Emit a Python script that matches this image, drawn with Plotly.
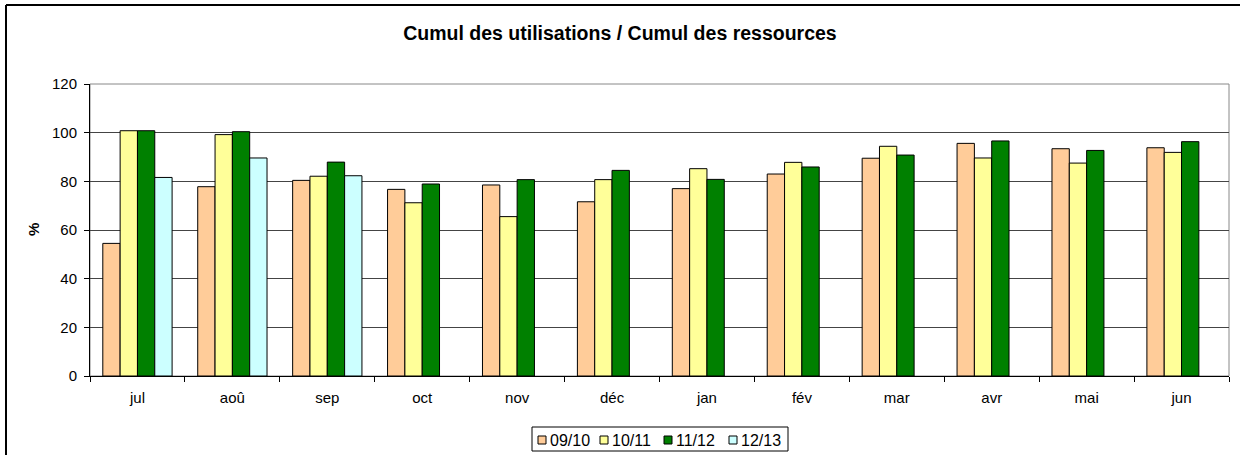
import plotly.graph_objects as go

months = ["jul", "aoû", "sep", "oct", "nov", "déc", "jan", "fév", "mar", "avr", "mai", "jun"]
s0910 = [54.5, 77.8, 80.4, 76.7, 78.5, 71.6, 77.0, 83.0, 89.5, 95.6, 93.4, 93.8]
s1011 = [100.8, 99.2, 82.1, 71.2, 65.5, 80.7, 85.2, 87.8, 94.4, 89.6, 87.5, 91.9]
s1112 = [100.8, 100.4, 87.9, 78.9, 80.7, 84.5, 80.8, 85.9, 90.8, 96.6, 92.7, 96.3]
s1213 = [81.6, 89.6, 82.3, None, None, None, None, None, None, None, None, None]
series_names = ["09/10", "10/11", "11/12", "12/13"]
colors = ["#FFCC99", "#FFFF99", "#008000", "#CCFFFF"]
y_ticks = [0, 20, 40, 60, 80, 100, 120]

FONT = "Liberation Sans, Arial, sans-serif"
W, H = 1240, 455
L, R, T, B = 90, 11, 84, 79
PW, PH = W - L - R, H - T - B


def px(x):
    return (x - L) / PW


def py(y):
    return (H - B - y) / PH


fig = go.Figure()
for name, vals, col in zip(series_names, [s0910, s1011, s1112, s1213], colors):
    fig.add_trace(go.Bar(
        x=months, y=vals, name=name, showlegend=False,
        marker=dict(color=col, line=dict(color="#000000", width=1)),
    ))

fig.update_layout(
    width=W, height=H,
    margin=dict(l=L, r=R, t=T, b=B),
    paper_bgcolor="white", plot_bgcolor="white",
    barmode="group", bargap=0.27, bargroupgap=0,
    font=dict(family=FONT, size=15, color="#000000"),
    title=dict(text="<b>Cumul des utilisations / Cumul des ressources</b>",
               x=0.5, xref="container", xanchor="center", y=1 - 33 / H, yref="container",
               yanchor="middle", font=dict(family=FONT, size=19.5, color="#000000")),
    showlegend=False,
)

fig.update_xaxes(
    automargin=False,
    showline=True, linecolor="#000000", linewidth=1,
    ticks="outside", ticklen=5, tickcolor="#000000", tickson="boundaries",
    showgrid=False, mirror=False, ticklabelstandoff=8,
    tickfont=dict(family=FONT, size=15, color="#000000"),
)
fig.update_yaxes(
    automargin=False,
    range=[0, 120], tickvals=y_ticks,
    showline=True, linecolor="#000000", linewidth=1,
    ticks="outside", ticklen=5, tickcolor="#000000", ticklabelstandoff=4,
    showgrid=True, gridcolor="#444444", gridwidth=1,
    tickfont=dict(family=FONT, size=15, color="#000000"),
    zeroline=False,
)

# y-axis title
fig.add_annotation(text="<b>%</b>", xref="paper", yref="paper", x=px(33), y=py(230),
                   textangle=-90, showarrow=False, xanchor="center", yanchor="middle",
                   font=dict(family=FONT, size=15, color="#000000"))

# plot area border (top/right grey)
fig.add_shape(type="rect", xref="paper", yref="paper", x0=0, x1=1, y0=0, y1=1,
              line=dict(color="#888888", width=1), layer="below")
# outer chart frame (top and left only visible)
fig.add_shape(type="line", xref="paper", yref="paper",
              x0=px(6), x1=px(1240), y0=py(5), y1=py(5),
              line=dict(color="#000000", width=2))
fig.add_shape(type="line", xref="paper", yref="paper",
              x0=px(6), x1=px(6), y0=py(5), y1=py(460),
              line=dict(color="#000000", width=2))

# manual legend
fig.add_shape(type="rect", xref="paper", yref="paper",
              x0=px(532), x1=px(788), y0=py(451), y1=py(427),
              line=dict(color="#000000", width=1), fillcolor="white")
item_left = [538, 600, 664, 729]
for xl, name, col in zip(item_left, series_names, colors):
    fig.add_shape(type="rect", xref="paper", yref="paper",
                  x0=px(xl), x1=px(xl + 8), y0=py(444), y1=py(436),
                  line=dict(color="#000000", width=1), fillcolor=col)
    fig.add_annotation(text=name, xref="paper", yref="paper", x=px(xl + 10), y=py(440),
                       showarrow=False, xanchor="left", yanchor="middle",
                       font=dict(family=FONT, size=16, color="#000000"))

fig.write_html("out.html", config={"displayModeBar": False},
               post_script="document.body.style.margin='0';document.body.style.overflow='hidden';")
